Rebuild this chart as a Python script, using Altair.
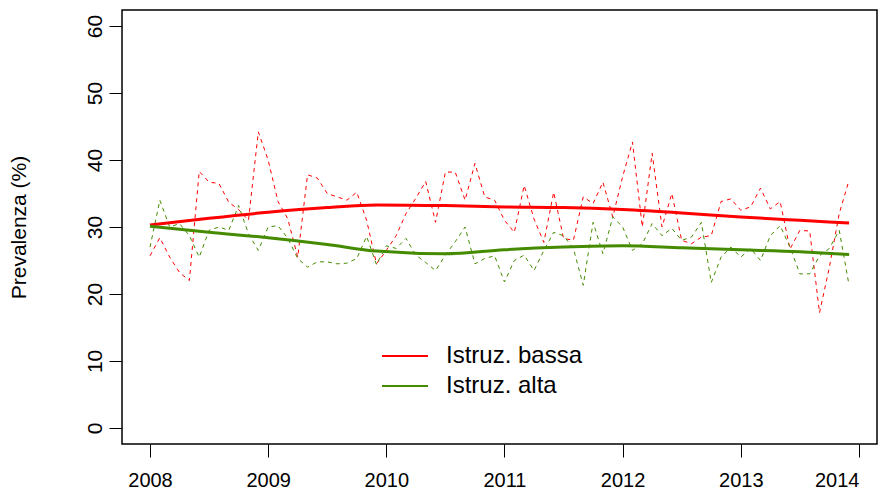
import altair as alt
import pandas as pd

# monthly series, Jan 2008 .. Dec 2013
bassa = [25.7, 28.4, 25.5, 23.2, 22.0, 38.3, 36.7, 36.5, 33.7, 32.6, 31.0, 44.2,
         40.0, 33.8, 31.2, 25.5, 37.8, 37.3, 35.0, 34.5, 34.0, 35.2, 31.0, 24.5,
         26.5, 28.7, 32.0, 34.3, 36.8, 30.7, 38.2, 38.2, 34.0, 39.5, 34.5, 34.0,
         31.0, 29.2, 36.2, 31.2, 27.7, 35.2, 28.3, 28.0, 34.5, 33.5, 36.7, 31.5,
         37.5, 42.7, 30.0, 41.0, 30.0, 35.0, 28.0, 27.5, 28.5, 28.7, 33.8, 34.2,
         32.5, 33.0, 35.8, 32.7, 33.8, 26.7, 29.5, 29.4, 17.2, 24.0, 32.0, 37.0]
alta = [27.0, 34.0, 30.0, 30.5, 28.7, 25.5, 29.5, 30.0, 29.5, 33.2, 29.0, 26.5,
        30.0, 30.2, 28.3, 25.3, 24.0, 24.8, 24.8, 24.5, 24.6, 25.3, 28.6, 24.4,
        27.2, 26.8, 28.3, 25.8, 24.7, 23.5, 25.8, 27.8, 30.0, 24.5, 25.3, 25.7,
        21.8, 25.0, 25.8, 23.5, 26.5, 29.2, 28.7, 26.8, 21.3, 30.7, 26.0, 31.5,
        30.0, 26.5, 27.5, 30.5, 28.7, 29.8, 28.0, 28.5, 30.7, 21.7, 25.5, 27.0,
        25.5, 26.8, 25.0, 28.7, 30.2, 27.0, 23.0, 23.0, 25.7, 26.8, 29.5, 21.3]

# smoothed trends
smooth_x = [2008.0, 2008.5, 2009.0, 2009.5, 2009.917, 2010.5, 2011.0, 2011.5,
            2012.0, 2012.5, 2013.0, 2013.5, 2013.917]
smooth_bassa = [30.3, 31.3, 32.2, 32.9, 33.3, 33.2, 33.0, 32.9, 32.6, 32.1, 31.5, 31.0, 30.6]
smooth_alta = [30.1, 29.2, 28.4, 27.4, 26.4, 26.0, 26.6, 27.0, 27.2, 26.9, 26.6, 26.3, 25.9]

series_names = ["Istruz. bassa", "Istruz. alta"]
colors = ["#ff0000", "#458B00"]
x_ticks = [2008, 2009, 2010, 2011, 2012, 2013, 2014]
y_ticks = [0, 10, 20, 30, 40, 50, 60]

months = [2008 + i / 12 for i in range(len(bassa))]
raw = pd.DataFrame({
    "t": months * 2,
    "v": bassa + alta,
    "s": [series_names[0]] * len(bassa) + [series_names[1]] * len(alta),
})
sm = pd.DataFrame({
    "t": smooth_x * 2,
    "v": smooth_bassa + smooth_alta,
    "s": [series_names[0]] * len(smooth_x) + [series_names[1]] * len(smooth_x),
})

FONT = "Liberation Sans"
xscale = alt.Scale(domain=[2007.763, 2014.153], nice=False, zero=False)
yscale = alt.Scale(domain=[-2.4, 62.4], nice=False, zero=False)
cscale = alt.Scale(domain=series_names, range=colors)

xenc = alt.X("t:Q", scale=xscale, axis=alt.Axis(
    values=x_ticks, format="d", title=None, domain=False, grid=False,
    tickColor="black", tickSize=13, labelFontSize=20, labelFont=FONT,
    labelColor="black", labelPadding=13, labelFlush=24))
yenc = alt.Y("v:Q", scale=yscale, axis=alt.Axis(
    values=y_ticks, title="Prevalenza (%)", domain=False, grid=False,
    tickColor="black", tickSize=13, labelFontSize=21, labelFont=FONT,
    labelColor="black", labelAngle=270, labelAlign="center", labelBaseline="bottom",
    labelPadding=4, titleFontSize=21, titleFont=FONT, titleFontWeight="normal",
    titleColor="black", titlePadding=55))

leg = alt.Legend(
    title=None, orient="none", legendX=270, legendY=333,
    symbolType="M-2,0L2,0", symbolSize=530, symbolStrokeWidth=2,
    labelFontSize=24, labelFont=FONT, labelColor="black", labelOffset=28,
    rowPadding=5)

dashed = alt.Chart(raw).mark_line(strokeWidth=1, strokeDash=[4, 4]).encode(
    x=xenc, y=yenc,
    color=alt.Color("s:N", scale=cscale, legend=leg),
    detail="s:N",
)
smooth = alt.Chart(sm).mark_line(strokeWidth=3, interpolate="monotone").encode(
    x=xenc, y=yenc,
    color=alt.Color("s:N", scale=cscale, legend=leg),
)

chart = alt.layer(dashed, smooth).properties(
    width=755, height=434,
    autosize=alt.AutoSizeParams(type="none"),
    padding={"left": 114, "top": 2, "right": 3, "bottom": 47},
).configure_view(stroke="black", strokeWidth=1.5).configure_axis(
    titleFontSize=21, titleFont=FONT, labelFont=FONT
)

chart.save("out.html", embed_options={"renderer": "svg", "actions": False})
